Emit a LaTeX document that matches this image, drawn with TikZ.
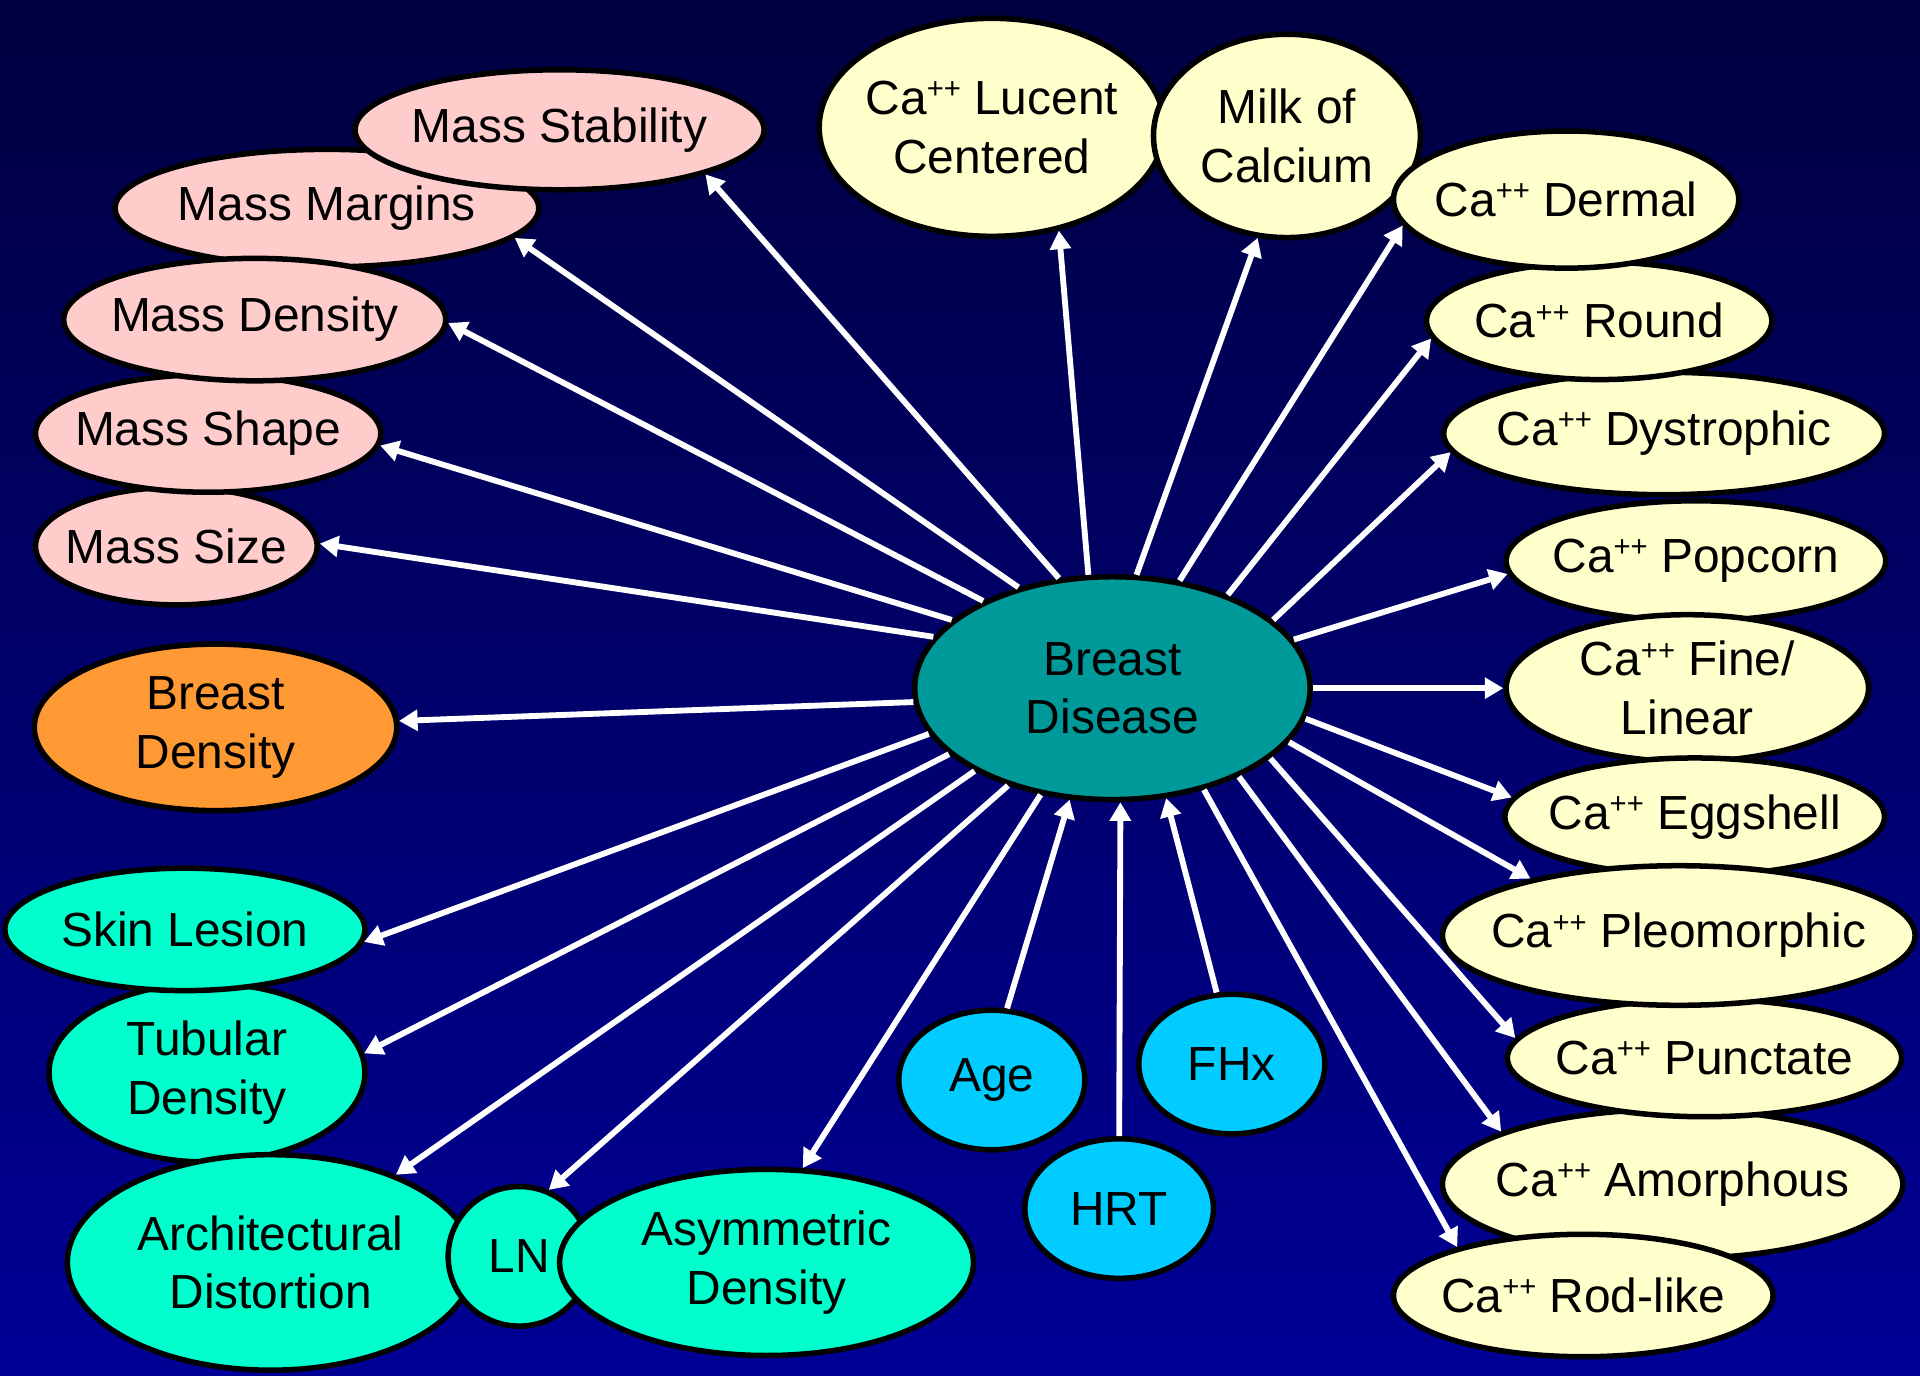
\documentclass[tikz,border=0pt]{standalone}
\usepackage{fontspec}
\setmainfont{Liberation Sans}
\usetikzlibrary{arrows.meta,shapes.geometric}
\definecolor{bgtop}{RGB}{0,0,64}
\definecolor{bgbot}{RGB}{0,0,150}
\definecolor{pinkc}{HTML}{FFCCCC}
\definecolor{creamc}{HTML}{FFFFCC}
\definecolor{orangec}{HTML}{FF9933}
\definecolor{aquac}{HTML}{00FFCC}
\definecolor{tealc}{HTML}{009999}
\definecolor{skyc}{HTML}{00CCFF}
% calcium with a small raised ++
\newcommand{\Ca}{Ca\raisebox{4.6pt}{\fontsize{8.5}{8}\selectfont ++}}
% a line of zero width, so the ellipse size is set by the style alone
\newcommand{\zw}[1]{\makebox[0pt]{#1}}
% two centred lines, nudged slightly down
\newcommand{\two}[2]{\raisebox{-2pt}{\zw{#1}}\\\raisebox{-2pt}{\zw{#2}}}
\begin{document}
\begin{tikzpicture}[x=0.0125cm,y=-0.0125cm,
  bub/.style={ellipse, draw=black, line width=1.6pt, inner sep=0pt,
    align=center, text=black, font=\fontsize{13.9}{17}\selectfont},
  sz/.style 2 args={minimum width=(#1-4)*0.0125cm, minimum height=(#2-4)*0.0125cm},
  mass/.style={bub, fill=pinkc},
  calc/.style={bub, fill=creamc},
  dens/.style={bub, fill=orangec},
  find/.style={bub, fill=aquac},
  hub/.style={bub, fill=tealc},
  risk/.style={bub, fill=skyc},
  arr/.style={draw=white, line width=1.7pt, -{Triangle[length=0.19cm,width=0.21cm]}}]

% background
\fill[top color=bgtop, bottom color=bgbot] (0,0) rectangle (1568,1123);
\useasboundingbox (0,0) rectangle (1568,1123);

% mass descriptors
\node[mass, sz={234}{100}] (msz) at (144,446) {\zw{Mass Size}};
\node[mass, sz={286}{100}] (msh) at (170,354) {\zw{Mass Shape}};
\node[mass, sz={350}{100}] (mm) at (267,170) {\zw{Mass Margins}};
\node[mass, sz={316}{104}] (md) at (208,261) {\zw{Mass Density}};
\node[mass, sz={338}{102}] (ms) at (457,106) {\zw{Mass Stability}};

% density
\node[dens, sz={300}{140}] (bden) at (176,594) {\two{Breast}{Density}};

% other findings
\node[find, sz={262}{150}] (tub) at (169,876) {\two{Tubular}{Density}};
\node[find, sz={298}{104}] (skin) at (151,759) {\zw{Skin Lesion}};
\node[find, sz={336}{180}] (arch) at (221,1031) {\two{Architectural}{Distortion}};
\node[find, sz={120}{118}] (ln) at (424,1026) {\zw{LN}};
\node[find, sz={342}{156}] (asym) at (626,1031) {\two{Asymmetric}{Density}};

% risk factors
\node[risk, sz={156}{118}] (age) at (810,882) {\zw{Age}};
\node[risk, sz={158}{118}] (hrt) at (914,987) {\zw{HRT}};
\node[risk, sz={156}{118}] (fhx) at (1006,869) {\zw{FHx}};

% central node
\node[hub, sz={327}{186}] (bd) at (908.5,562) {\two{Breast}{Disease}};

% calcification types
\node[calc, sz={286}{182}] (luc) at (810,104) {\two{\Ca{} Lucent}{Centered}};
\node[calc, sz={222}{170}] (milk) at (1051,111) {\two{Milk of}{Calcium}};
\node[calc, sz={364}{104}] (dys) at (1359,354) {\zw{\Ca{} Dystrophic}};
\node[calc, sz={286}{100}] (round) at (1306,262) {\zw{\Ca{} Round}};
\node[calc, sz={286}{116}] (derm) at (1279,163) {\zw{\Ca{} Dermal}};
\node[calc, sz={314}{102}] (pop) at (1385,458) {\zw{\Ca{} Popcorn}};
\node[calc, sz={300}{124}] (fine) at (1378,562) {\two{\Ca{} Fine/}{Linear}};
\node[calc, sz={314}{100}] (egg) at (1384,667) {\zw{\Ca{} Eggshell}};
\node[calc, sz={380}{126}] (amor) at (1366,967) {\zw{\Ca{} Amorphous}};
\node[calc, sz={326}{100}] (punc) at (1392,864) {\zw{\Ca{} Punctate}};
\node[calc, sz={390}{118}] (pleo) at (1371,764) {\zw{\Ca{} Pleomorphic}};
\node[calc, sz={314}{104}] (rod) at (1293,1058) {\zw{\Ca{} Rod-like}};

% outgoing links
\draw[arr] (bd.116.3) -- (ms.-17.1);
\draw[arr] (bd.133.1) -- (mm.-9.3);
\draw[arr] (bd.146.4) -- (md.-1);
\draw[arr] (bd.157) -- (msh.-4.8);
\draw[arr] (bd.164.9) -- (msz.1);
\draw[arr] (bd.184.2) -- (bden.2.3);
\draw[arr] (bd.194.8) -- (skin.-4.5);
\draw[arr] (bd.202.9) -- (tub.7);
\draw[arr] (bd.211.3) -- (arch.35);
\draw[arr] (bd.223.1) -- (ln.66.4);
\draw[arr] (bd.236.8) -- (asym.69.8);
\draw[arr] (bd.102.3) -- (luc.-57.6);
\draw[arr] (bd.78.3) -- (milk.254.7);
\draw[arr] (bd.58) -- (derm.189.5);
\draw[arr] (bd.39.1) -- (round.186.1);
\draw[arr] (bd.23.8) -- (dys.185.7);
\draw[arr] (bd.15.2) -- (pop.184.4);
\draw[arr] (bd.0) -- (fine.180);
\draw[arr] (bd.-9.1) -- (egg.174.1);
\draw[arr] (bd.-17.1) -- (pleo.159.2);
\draw[arr] (bd.-24.7) -- (punc.174.4);
\draw[arr] (bd.-35.8) -- (amor.163.1);
\draw[arr] (bd.-48.5) -- (rod.159.1);

% incoming links
\draw[arr] (age.78.5) -- (bd.249.6);
\draw[arr] (hrt.90) -- (bd.274);
\draw[arr] (fhx.102.4) -- (bd.296.1);
\end{tikzpicture}
\end{document}
